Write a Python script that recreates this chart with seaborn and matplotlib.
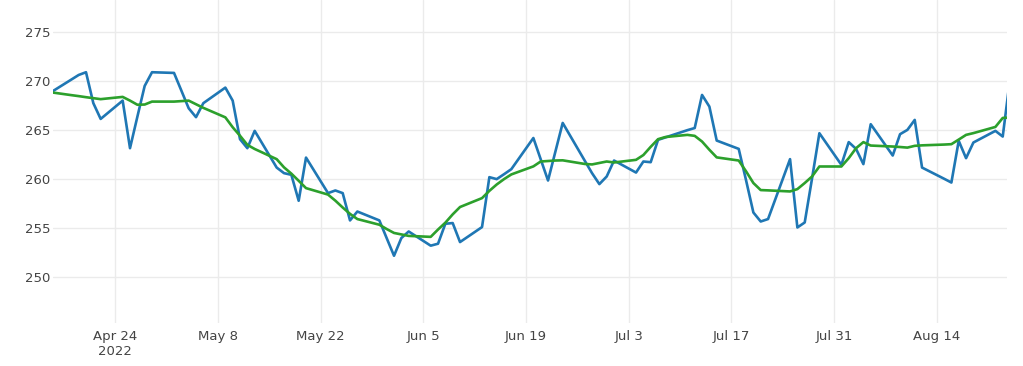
import matplotlib
matplotlib.use('Agg')
import matplotlib.pyplot as plt
import pandas as pd
import seaborn as sns

# trading days shown in the chart
dates = [
    "2022-04-14", "2022-04-18", "2022-04-19", "2022-04-20", "2022-04-21", "2022-04-22",
    "2022-04-25", "2022-04-26", "2022-04-27", "2022-04-28", "2022-04-29",
    "2022-05-02", "2022-05-03", "2022-05-04", "2022-05-05", "2022-05-06",
    "2022-05-09", "2022-05-10", "2022-05-11", "2022-05-12", "2022-05-13",
    "2022-05-16", "2022-05-17", "2022-05-18", "2022-05-19", "2022-05-20",
    "2022-05-23", "2022-05-24", "2022-05-25", "2022-05-26", "2022-05-27",
    "2022-05-30", "2022-05-31", "2022-06-01", "2022-06-02", "2022-06-03",
    "2022-06-06", "2022-06-07", "2022-06-08", "2022-06-09", "2022-06-10",
    "2022-06-13", "2022-06-14", "2022-06-15", "2022-06-16", "2022-06-17",
    "2022-06-20", "2022-06-21", "2022-06-22", "2022-06-23", "2022-06-24",
    "2022-06-27", "2022-06-28", "2022-06-29", "2022-06-30", "2022-07-01",
    "2022-07-04", "2022-07-05", "2022-07-06", "2022-07-07", "2022-07-08",
    "2022-07-11", "2022-07-12", "2022-07-13", "2022-07-14", "2022-07-15",
    "2022-07-18", "2022-07-19", "2022-07-20", "2022-07-21", "2022-07-22",
    "2022-07-25", "2022-07-26", "2022-07-27", "2022-07-28", "2022-07-29",
    "2022-08-01", "2022-08-02", "2022-08-03", "2022-08-04", "2022-08-05",
    "2022-08-08", "2022-08-09", "2022-08-10", "2022-08-11", "2022-08-12",
    "2022-08-15", "2022-08-16", "2022-08-17", "2022-08-18", "2022-08-19",
    "2022-08-22", "2022-08-23", "2022-08-24",
]

price = [
    268.3, 270.17, 270.64, 270.92, 267.76, 266.15,
    268.02, 263.16, 266.36, 269.52, 270.92,
    270.85, 269.05, 267.24, 266.33, 267.76,
    269.35, 268.02, 264.08, 263.16, 264.93,
    261.18, 260.61, 260.44, 257.79, 262.2,
    258.57, 258.84, 258.57, 255.78, 256.69,
    255.78, 253.97, 252.17, 253.98, 254.65,
    253.2, 253.4, 255.44, 255.51, 253.57,
    255.1, 260.2, 260.0, 260.5, 261.02,
    264.2, 262.03, 259.86, 262.8, 265.74,
    261.89, 260.61, 259.49, 260.27, 261.9,
    260.67, 261.8, 261.73, 264.01, 264.26,
    265.0, 265.22, 268.6, 267.41, 263.94,
    263.09, 259.89, 256.59, 255.67, 255.92,
    262.04, 255.06, 255.57, 260.07, 264.69,
    261.46, 263.78, 263.09, 261.53, 265.61,
    262.41, 264.59, 265.03, 266.05, 261.18,
    260.04, 259.65, 263.91, 262.14, 263.74,
    264.93, 264.35, 270.3,
]

smooth = [
    269.0, 268.58, 268.48, 268.37, 268.27, 268.17,
    268.4, 268.02, 267.6, 267.62, 267.92,
    267.92, 267.97, 268.02, 267.65, 267.28,
    266.31, 265.3, 264.43, 263.5, 263.08,
    262.04, 261.2, 260.56, 259.83, 259.08,
    258.42, 257.8, 257.1, 256.45, 255.92,
    255.34, 254.9, 254.5, 254.35, 254.2,
    254.1, 254.85, 255.55, 256.4, 257.15,
    258.06, 258.8, 259.45, 260.0, 260.48,
    261.3, 261.8, 261.85, 261.9, 261.92,
    261.55, 261.5, 261.65, 261.8, 261.7,
    261.97, 262.46, 263.3, 264.08, 264.3,
    264.52, 264.42, 263.84, 263.0, 262.22,
    261.9, 260.8, 259.6, 258.88, 258.85,
    258.74, 258.98, 259.6, 260.27, 261.29,
    261.29, 262.14, 263.16, 263.78, 263.43,
    263.33, 263.28, 263.22, 263.4, 263.45,
    263.53, 263.57, 264.04, 264.52, 264.7,
    265.33, 266.25, 266.3,
]

y_ticks = [250, 255, 260, 265, 270, 275]
x_ticks = ["2022-04-24", "2022-05-08", "2022-05-22", "2022-06-05", "2022-06-19",
           "2022-07-03", "2022-07-17", "2022-07-31", "2022-08-14"]

df = pd.DataFrame({"date": pd.to_datetime(dates), "price": price, "smooth": smooth})

sns.set_style("white")
plt.rcParams['font.family'] = ['DejaVu Sans']

fig = plt.figure(figsize=(10.23, 3.66), dpi=100)
ax = fig.add_axes([53 / 1023, 43 / 366, 953.7 / 1023, 323 / 366])

sns.lineplot(data=df, x="date", y="price", color="#1f77b4", linewidth=1.9, ax=ax)
sns.lineplot(data=df, x="date", y="smooth", color="#2ca02c", linewidth=1.9, ax=ax)

ax.set_xlim(pd.Timestamp("2022-04-15 12:00"), pd.Timestamp("2022-08-23 13:00"))
ax.set_ylim(245.3, 278.3)

ax.set_yticks(y_ticks)
ax.set_yticklabels([str(v) for v in y_ticks])
tick_dates = pd.to_datetime(x_ticks)
ax.set_xticks(tick_dates)
labels = [d.strftime("%b ") + str(d.day) for d in tick_dates]
labels[0] = labels[0] + "\n2022"
ax.set_xticklabels(labels)

ax.grid(True, color="#ebebeb", linewidth=1.0)
ax.set_axisbelow(True)
for s in ax.spines.values():
    s.set_visible(False)
ax.tick_params(axis='both', length=0, labelsize=9.5, colors="#444444")
ax.tick_params(axis='x', pad=5)
ax.tick_params(axis='y', pad=2)
ax.set_xlabel("")
ax.set_ylabel("")

fig.savefig("out.png", dpi=100)
plt.close(fig)
